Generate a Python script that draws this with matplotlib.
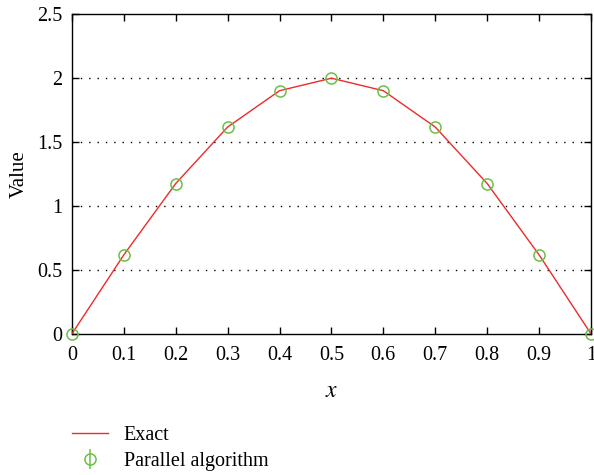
import matplotlib
matplotlib.use("Agg")
import matplotlib.pyplot as plt

x = [0.0, 0.1, 0.2, 0.3, 0.4, 0.5, 0.6, 0.7, 0.8, 0.9, 1.0]
exact = [0.0, 0.618, 1.176, 1.618, 1.902, 2.0, 1.902, 1.618, 1.176, 0.618, 0.0]
parallel = [0.0, 0.618, 1.176, 1.618, 1.902, 2.0, 1.902, 1.618, 1.176, 0.618, 0.0]
xticks = [0, 0.1, 0.2, 0.3, 0.4, 0.5, 0.6, 0.7, 0.8, 0.9, 1]
xticklabels = ["0", "0.1", "0.2", "0.3", "0.4", "0.5", "0.6", "0.7", "0.8", "0.9", "1"]
yticks = [0, 0.5, 1, 1.5, 2, 2.5]
yticklabels = ["0", "0.5", "1", "1.5", "2", "2.5"]

plt.rcParams['font.family'] = ['Liberation Serif', 'DejaVu Serif']
plt.rcParams['mathtext.fontset'] = 'stix'

fig = plt.figure(figsize=(5.94, 4.75), dpi=100)
ax = fig.add_axes([0.121, 0.297, 0.874, 0.673])

red = "#ee2a2a"
green = "#6cbf45"

ax.plot(x, exact, color=red, lw=1.0, label="Exact", zorder=3)
ax.errorbar(x, parallel, yerr=0, fmt='o', mfc='none', mec=green, ms=8,
            mew=1.1, ecolor=green, elinewidth=1.1, capsize=0,
            label="Parallel algorithm", zorder=4, clip_on=False)

ax.set_xlim(0, 1)
ax.set_ylim(0, 2.5)
ax.set_xticks(xticks)
ax.set_xticklabels(xticklabels)
ax.set_yticks(yticks)
ax.set_yticklabels(yticklabels)
ax.tick_params(direction='in', length=5, width=1, top=True, right=True,
               labelsize=14.5)
ax.tick_params(axis='x', pad=9)
ax.tick_params(axis='y', pad=7)
for s in ax.spines.values():
    s.set_linewidth(1.0)
for yv in [0.5, 1.0, 1.5, 2.0]:
    ax.axhline(yv, color='black', lw=1.0, ls=(0, (1, 5)), zorder=1)

ax.set_xlabel("$x$", fontsize=17, labelpad=11)
ax.set_ylabel("Value", fontsize=15, labelpad=6)

fig.legend(loc='upper left', bbox_to_anchor=(0.108, 0.12), frameon=False,
           fontsize=14.5, handlelength=1.8, handletextpad=0.75, labelspacing=0.35,
           borderaxespad=0)

fig.savefig("out.png", dpi=100)
